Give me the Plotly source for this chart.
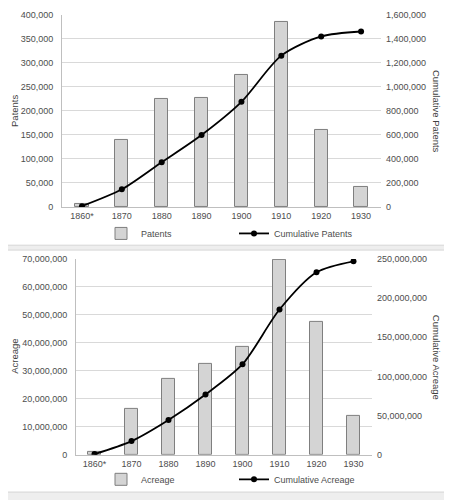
import plotly.graph_objects as go

years = ["1860*", "1870", "1880", "1890", "1900", "1910", "1920", "1930"]
patents = [7000, 140000, 226000, 227000, 276000, 385000, 160000, 41000]
cum_patents = [7000, 147000, 373000, 600000, 876000, 1261000, 1421000, 1462000]
acreage = [1.0e6, 16.5e6, 27.0e6, 32.5e6, 38.6e6, 69.8e6, 47.5e6, 14.0e6]
cum_acreage = [1.0e6, 17.5e6, 44.5e6, 77.0e6, 115.6e6, 185.4e6, 232.9e6, 246.9e6]

# page body has an 8px default margin; figure fills the rest of the 452x500 window
OFF = 8
W, H = 452 - OFF, 500 - OFF
FONT = "Liberation Sans"
TXT = "#4d4d4d"
GRID = "#d9d9d9"
BAR_FILL = "#d4d4d4"
BAR_LINE = "#7f7f7f"


def px(x):
    return (x - OFF) / W


def py(y):
    return 1 - (y - OFF) / H


fig = go.Figure()

fig.add_trace(go.Bar(x=years, y=patents, name="Patents", xaxis="x", yaxis="y",
                     width=0.33, marker=dict(color=BAR_FILL, line=dict(color=BAR_LINE, width=1)),
                     legend="legend"))
fig.add_trace(go.Scatter(x=years, y=cum_patents, name="Cumulative Patents", xaxis="x", yaxis="y2",
                         mode="lines+markers", line=dict(color="black", width=1.8, shape="spline", smoothing=0.8),
                         marker=dict(color="black", size=6), legend="legend"))
fig.add_trace(go.Bar(x=years, y=acreage, name="Acreage", xaxis="x2", yaxis="y3",
                     width=0.33, marker=dict(color=BAR_FILL, line=dict(color=BAR_LINE, width=1)),
                     legend="legend2"))
fig.add_trace(go.Scatter(x=years, y=cum_acreage, name="Cumulative Acreage", xaxis="x2", yaxis="y4",
                         mode="lines+markers", line=dict(color="black", width=1.8, shape="spline", smoothing=0.8),
                         marker=dict(color="black", size=6), legend="legend2"))

tickfont = dict(family=FONT, size=9, color=TXT)

xcommon = dict(type="category", range=[-0.5, 7.5], showgrid=False, zeroline=False,
               showline=True, linecolor="#bfbfbf", linewidth=1, ticks="",
               tickfont=tickfont, fixedrange=True)
ycommon = dict(showgrid=True, gridcolor=GRID, gridwidth=1, zeroline=False, ticks="",
               tickformat=",", tickfont=tickfont, showline=True, linecolor="#bfbfbf",
               linewidth=1, ticklabelstandoff=6)
y2common = dict(showgrid=False, zeroline=False, ticks="", tickformat=",",
                tickfont=tickfont, showline=False, side="right", ticklabelstandoff=4)

legcommon = dict(orientation="h", xanchor="left", yanchor="middle",
                 font=dict(family=FONT, size=9, color=TXT), bgcolor="rgba(0,0,0,0)",
                 entrywidth=88, entrywidthmode="pixels", itemwidth=30, tracegroupgap=0)

titlefont = dict(family=FONT, size=9.5, color="#404040")

fig.update_layout(
    width=W, height=H,
    margin=dict(l=0, r=0, t=0, b=0),
    paper_bgcolor="white",
    plot_bgcolor="rgba(0,0,0,0)",
    font=dict(family=FONT, size=9, color=TXT),
    bargap=0,
    xaxis=dict(domain=[px(62), px(381)], anchor="y", **xcommon),
    yaxis=dict(domain=[py(206), py(10)], anchor="x", range=[0, 400000], dtick=50000, **ycommon),
    yaxis2=dict(overlaying="y", anchor="x", range=[0, 1600000], dtick=200000, **y2common),
    xaxis2=dict(domain=[px(76), px(372)], anchor="y3", **xcommon),
    yaxis3=dict(domain=[py(459), py(259)], anchor="x2", range=[0, 70000000], dtick=10000000, **ycommon),
    yaxis4=dict(overlaying="y3", anchor="x2", range=[0, 250000000], dtick=50000000, **y2common),
    legend=dict(x=px(101), y=py(233), **legcommon),
    legend2=dict(x=px(101), y=py(484), **legcommon),
    showlegend=True,
    shapes=[
        dict(type="rect", xref="paper", yref="paper", x0=-0.1, x1=1.1, y0=py(250), y1=py(245),
             fillcolor="#eeeeee", line=dict(color="#d6d6d6", width=1), layer="below"),
        dict(type="rect", xref="paper", yref="paper", x0=-0.1, x1=1.1, y0=-0.1, y1=py(497),
             fillcolor="#eeeeee", line=dict(color="#d6d6d6", width=1), layer="below"),
        dict(type="rect", xref="paper", yref="paper", x0=px(450), x1=1.1, y0=-0.1, y1=1.1,
             fillcolor="#eeeeee", line=dict(color="#d6d6d6", width=1), layer="below"),
    ],
    annotations=[
        dict(text="Patents", xref="paper", yref="paper", x=px(15), y=py(108), textangle=-90,
             xanchor="center", yanchor="middle", showarrow=False, font=titlefont),
        dict(text="Cumulative Patents", xref="paper", yref="paper", x=px(436), y=py(108), textangle=90,
             xanchor="center", yanchor="middle", showarrow=False, font=titlefont),
        dict(text="Acreage", xref="paper", yref="paper", x=px(15), y=py(359), textangle=-90,
             xanchor="center", yanchor="middle", showarrow=False, font=titlefont),
        dict(text="Cumulative Acreage", xref="paper", yref="paper", x=px(436), y=py(359), textangle=90,
             xanchor="center", yanchor="middle", showarrow=False, font=titlefont),
    ],
)

fig.write_html("out.html")
